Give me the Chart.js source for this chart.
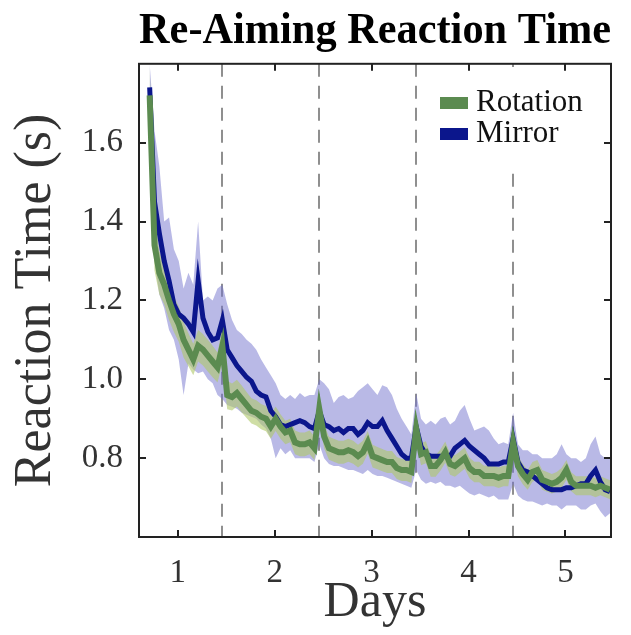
<!DOCTYPE html>
<html>
<head>
<meta charset="utf-8">
<title>Re-Aiming Reaction Time</title>
<script src="https://cdn.jsdelivr.net/npm/chart.js@4.4.1/dist/chart.umd.min.js"></script>
<style>
  body { margin: 0; background: #fff; }
</style>
</head>
<body>
<canvas id="grafico" width="631" height="635"></canvas>
<script>
// dias de treino (eixo x)
const days = [
  0.71, 0.76, 0.81, 0.86, 0.91, 0.96, 1.01, 1.06, 1.11, 1.16, 1.21, 1.26, 1.31, 1.36, 1.41,
  1.46, 1.51, 1.56, 1.61, 1.66, 1.71, 1.76, 1.81, 1.86, 1.91, 1.96, 2.01, 2.06, 2.11, 2.16, 2.21, 2.26, 2.31, 2.36, 2.41,
  2.46, 2.51, 2.56, 2.61, 2.66, 2.71, 2.76, 2.81, 2.86, 2.91, 2.96, 3.01, 3.06, 3.11, 3.16, 3.21, 3.26, 3.31, 3.36, 3.41,
  3.46, 3.51, 3.56, 3.61, 3.66, 3.71, 3.76, 3.81, 3.86, 3.91, 3.96, 4.01, 4.06, 4.11, 4.16, 4.21, 4.26, 4.31, 4.36, 4.41,
  4.46, 4.51, 4.56, 4.61, 4.66, 4.71, 4.76, 4.81, 4.86, 4.91, 4.96, 5.01, 5.06, 5.11, 5.16, 5.21, 5.26, 5.31, 5.36, 5.41, 5.46
]

// grupo Rotation: media e erro padrao
const rotationMean = [
  1.72, 1.34, 1.27, 1.24, 1.20, 1.165, 1.14, 1.10, 1.075, 1.05, 1.085, 1.075, 1.06, 1.045, 1.03,
  1.085, 0.96, 0.955, 0.965, 0.95, 0.935, 0.92, 0.915, 0.905, 0.90, 0.88, 0.90, 0.88, 0.865, 0.87, 0.84, 0.835, 0.835, 0.84, 0.825,
  0.925, 0.855, 0.825, 0.82, 0.815, 0.815, 0.82, 0.815, 0.805, 0.815, 0.84, 0.805, 0.80, 0.795, 0.79, 0.79, 0.775, 0.77, 0.77, 0.765,
  0.875, 0.81, 0.815, 0.78, 0.78, 0.795, 0.815, 0.785, 0.78, 0.79, 0.80, 0.775, 0.765, 0.765, 0.755, 0.755, 0.755, 0.75, 0.755, 0.755,
  0.84, 0.78, 0.76, 0.745, 0.765, 0.77, 0.745, 0.74, 0.735, 0.74, 0.75, 0.77, 0.74, 0.73, 0.73, 0.73, 0.73, 0.725, 0.73, 0.725, 0.72
]
const rotationSem = [
  0.075, 0.065, 0.055, 0.05, 0.05, 0.045, 0.045, 0.045, 0.042, 0.04, 0.04, 0.04, 0.04, 0.04, 0.038,
  0.045, 0.036, 0.034, 0.034, 0.034, 0.033, 0.032, 0.032, 0.032, 0.032, 0.031, 0.031, 0.031, 0.03, 0.03, 0.03, 0.03, 0.03, 0.03, 0.03,
  0.034, 0.03, 0.029, 0.029, 0.029, 0.029, 0.029, 0.029, 0.029, 0.029, 0.029, 0.029, 0.028, 0.028, 0.028, 0.028, 0.028, 0.028, 0.028, 0.028,
  0.032, 0.028, 0.028, 0.027, 0.027, 0.027, 0.027, 0.027, 0.027, 0.027, 0.027, 0.026, 0.026, 0.026, 0.026, 0.026, 0.026, 0.026, 0.026, 0.026,
  0.03, 0.026, 0.026, 0.025, 0.025, 0.025, 0.025, 0.025, 0.025, 0.025, 0.025, 0.025, 0.024, 0.024, 0.024, 0.024, 0.024, 0.024, 0.024, 0.024, 0.024
]

// grupo Mirror: media e limites da faixa
const mirrorMean = [
  1.74, 1.45, 1.37, 1.30, 1.25, 1.19, 1.165, 1.155, 1.14, 1.12, 1.25, 1.155, 1.12, 1.10, 1.105,
  1.15, 1.075, 1.055, 1.035, 1.02, 1.005, 0.995, 0.97, 0.96, 0.955, 0.92, 0.905, 0.885, 0.88, 0.885, 0.89, 0.895, 0.89, 0.88, 0.875,
  0.92, 0.885, 0.88, 0.87, 0.875, 0.865, 0.875, 0.875, 0.86, 0.87, 0.89, 0.88, 0.88, 0.895, 0.87, 0.85, 0.83, 0.81, 0.80, 0.80,
  0.88, 0.83, 0.81, 0.805, 0.805, 0.805, 0.805, 0.805, 0.825, 0.835, 0.845, 0.83, 0.82, 0.81, 0.80, 0.785, 0.785, 0.785, 0.79, 0.79,
  0.85, 0.79, 0.77, 0.765, 0.755, 0.745, 0.735, 0.725, 0.72, 0.72, 0.72, 0.725, 0.725, 0.73, 0.735, 0.735, 0.755, 0.77, 0.74, 0.72, 0.715
]
const mirrorHigh = [
  1.80, 1.63, 1.54, 1.40, 1.41, 1.33, 1.30, 1.23, 1.27, 1.24, 1.40, 1.20, 1.21, 1.20, 1.23,
  1.24, 1.19, 1.15, 1.125, 1.115, 1.10, 1.09, 1.075, 1.05, 1.03, 1.01, 0.99, 0.96, 0.95, 0.96, 0.95, 0.965, 0.955, 0.96, 0.96,
  1.0, 0.99, 0.975, 0.94, 0.955, 0.96, 0.95, 0.955, 0.97, 0.98, 0.99, 0.975, 0.96, 0.985, 0.98, 0.96, 0.925, 0.90, 0.88, 0.86,
  0.965, 0.90, 0.885, 0.895, 0.885, 0.90, 0.905, 0.885, 0.895, 0.92, 0.935, 0.90, 0.87, 0.875, 0.88, 0.87, 0.85, 0.835, 0.84, 0.835,
  0.915, 0.835, 0.82, 0.82, 0.81, 0.81, 0.80, 0.80, 0.80, 0.81, 0.835, 0.81, 0.80, 0.80, 0.79, 0.80, 0.835, 0.855, 0.81, 0.80, 0.80
]
const mirrorLow = [
  1.63, 1.30, 1.215, 1.18, 1.125, 1.10, 1.05, 0.96, 1.04, 1.025, 1.015, 1.02, 1.0, 0.99, 0.96,
  0.95, 0.935, 0.93, 0.925, 0.915, 0.91, 0.905, 0.90, 0.885, 0.875, 0.85, 0.80, 0.825, 0.81, 0.82, 0.80, 0.80, 0.80, 0.80, 0.79,
  0.835, 0.80, 0.785, 0.78, 0.78, 0.775, 0.77, 0.77, 0.765, 0.76, 0.77, 0.76, 0.755, 0.755, 0.75, 0.745, 0.74, 0.735, 0.73, 0.725,
  0.77, 0.745, 0.735, 0.74, 0.735, 0.74, 0.73, 0.73, 0.725, 0.73, 0.72, 0.71, 0.705, 0.71, 0.705, 0.70, 0.705, 0.695, 0.695, 0.695,
  0.735, 0.705, 0.695, 0.69, 0.69, 0.685, 0.68, 0.685, 0.68, 0.68, 0.67, 0.68, 0.68, 0.68, 0.67, 0.67, 0.68, 0.685, 0.665, 0.65, 0.66
]

const xTicks = [1, 2, 3, 4, 5]
const yTicks = [0.8, 1.0, 1.2, 1.4, 1.6]
// inicio de cada dia (linhas tracejadas)
const dayStarts = [1.46, 2.46, 3.46, 4.46]

const verde = '#5b8b50'
const azul = '#0b168c'
const fonte = "'Liberation Serif', 'Times New Roman', serif"

function pontos(valores) {
  return valores.map((v, i) => ({ x: days[i], y: v }))
}

// linhas tracejadas, moldura com ticks para dentro e legenda
const moldura = {
  id: 'moldura',
  beforeDatasetsDraw(chart) {
    const { ctx, chartArea: a, scales: { x } } = chart
    ctx.save()
    ctx.strokeStyle = '#8f8f8f'
    ctx.lineWidth = 2
    ctx.setLineDash([13, 9])
    dayStarts.forEach((d) => {
      const px = Math.round(x.getPixelForValue(d))
      ctx.beginPath()
      ctx.moveTo(px, a.top)
      ctx.lineTo(px, a.bottom)
      ctx.stroke()
    })
    ctx.restore()
  },
  afterDatasetsDraw(chart) {
    const { ctx, chartArea: a, scales: { x, y } } = chart
    ctx.save()

    // legenda
    ctx.fillStyle = '#fff'
    ctx.fillRect(425, 67, 182, 101)
    const itens = [chart.data.datasets[0], chart.data.datasets[1]]
    ctx.font = '31px ' + fonte
    ctx.textBaseline = 'middle'
    itens.forEach((ds, i) => {
      const cy = 103 + i * 31
      ctx.fillStyle = ds.borderColor
      ctx.fillRect(440, cy - 6, 28, 12)
      ctx.fillStyle = '#111'
      ctx.fillText(ds.label, 476, cy)
    })

    // moldura
    ctx.strokeStyle = '#222'
    ctx.lineWidth = 2
    ctx.strokeRect(a.left, a.top, a.right - a.left, a.bottom - a.top)
    ctx.beginPath()
    xTicks.forEach((t) => {
      const px = Math.round(x.getPixelForValue(t))
      ctx.moveTo(px, a.bottom); ctx.lineTo(px, a.bottom - 7)
      ctx.moveTo(px, a.top); ctx.lineTo(px, a.top + 7)
    })
    yTicks.forEach((t) => {
      const py = Math.round(y.getPixelForValue(t))
      ctx.moveTo(a.left, py); ctx.lineTo(a.left + 7, py)
      ctx.moveTo(a.right, py); ctx.lineTo(a.right - 7, py)
    })
    ctx.stroke()
    ctx.restore()
  }
}

const ctx = document.getElementById('grafico')

new Chart(ctx, {
  type: 'line',
  data: {
    datasets: [
      {
        label: 'Rotation',
        data: pontos(rotationMean),
        borderColor: verde,
        borderWidth: 6,
        pointRadius: 0,
        tension: 0,
        order: 0
      },
      {
        label: 'Mirror',
        data: pontos(mirrorMean),
        borderColor: azul,
        borderWidth: 5,
        pointRadius: 0,
        tension: 0,
        order: 1
      },
      {
        label: 'Rotation alto',
        data: pontos(rotationMean.map((m, i) => m + rotationSem[i])),
        borderColor: 'transparent',
        borderWidth: 0,
        backgroundColor: 'rgba(175, 200, 105, 0.6)',
        pointRadius: 0,
        fill: '+1',
        order: 2
      },
      {
        label: 'Rotation baixo',
        data: pontos(rotationMean.map((m, i) => m - rotationSem[i])),
        borderColor: 'transparent',
        borderWidth: 0,
        pointRadius: 0,
        fill: false,
        order: 3
      },
      {
        label: 'Mirror alto',
        data: pontos(mirrorHigh),
        borderColor: 'transparent',
        borderWidth: 0,
        backgroundColor: 'rgba(115, 115, 205, 0.5)',
        pointRadius: 0,
        fill: '+1',
        order: 4
      },
      {
        label: 'Mirror baixo',
        data: pontos(mirrorLow),
        borderColor: 'transparent',
        borderWidth: 0,
        pointRadius: 0,
        fill: false,
        order: 5
      }
    ]
  },
  options: {
    responsive: false,
    animation: false,
    layout: { padding: { left: 0, right: 20, top: 0, bottom: 0 } },
    scales: {
      x: {
        type: 'linear',
        min: 0.6,
        max: 5.47,
        grid: { display: false, drawTicks: false },
        border: { display: false },
        afterFit: (s) => { s.height = 98 },
        afterBuildTicks: (s) => { s.ticks = xTicks.map((v) => ({ value: v })) },
        ticks: {
          padding: 17,
          color: '#333',
          font: { family: fonte, size: 33 },
          callback: (v) => String(v)
        },
        title: {
          display: true,
          text: 'Days',
          color: '#333',
          padding: { top: 0, bottom: 2 },
          font: { family: fonte, size: 50 }
        }
      },
      y: {
        min: 0.6,
        max: 1.8,
        grid: { display: false, drawTicks: false },
        border: { display: false },
        afterFit: (s) => { s.width = 139 },
        afterBuildTicks: (s) => { s.ticks = yTicks.map((v) => ({ value: v })) },
        ticks: {
          padding: 16,
          color: '#333',
          font: { family: fonte, size: 33 },
          callback: (v) => v.toFixed(1)
        },
        title: {
          display: true,
          text: 'Reaction Time (s)',
          color: '#333',
          padding: { top: 5, bottom: 0 },
          font: { family: fonte, size: 52 }
        }
      }
    },
    plugins: {
      legend: { display: false },
      tooltip: { enabled: false },
      title: {
        display: true,
        text: 'Re-Aiming Reaction Time',
        fullSize: false,
        color: '#000',
        padding: { top: 5, bottom: 6 },
        font: { family: fonte, size: 44, weight: 'bold' }
      }
    }
  },
  plugins: [moldura]
})
</script>
</body>
</html>
